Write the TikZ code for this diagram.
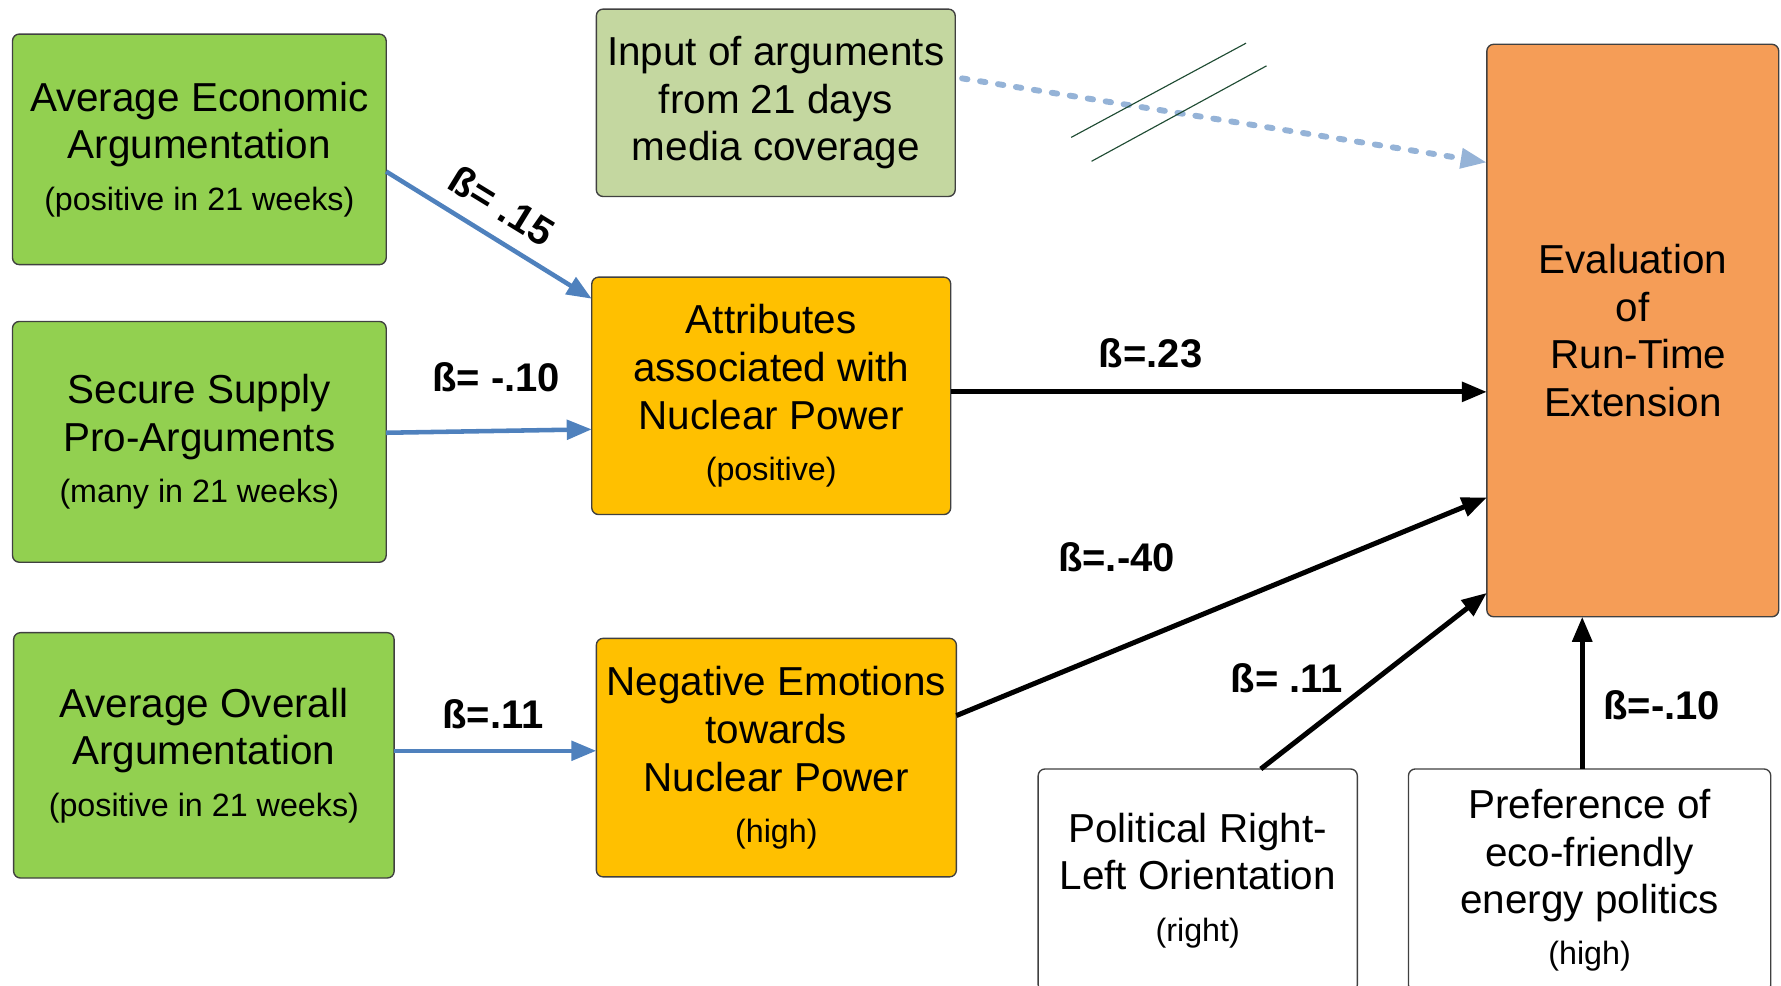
\documentclass[tikz,border=0pt]{standalone}
\usepackage{fontspec}
\setmainfont{Liberation Sans}
\usetikzlibrary{arrows.meta}

\definecolor{boxgreen}{RGB}{146,208,80}
\definecolor{inputgreen}{RGB}{196,215,160}
\definecolor{amber}{RGB}{255,192,0}
\definecolor{evalorange}{RGB}{245,157,87}
\definecolor{pathblue}{RGB}{79,129,189}
\definecolor{dotblue}{RGB}{149,179,215}
\definecolor{tickgreen}{RGB}{30,75,50}

\newcommand\subline[1]{{\fontsize{14.2}{17}\selectfont #1}}

\tikzset{
  box/.style={draw=black!75, line width=0.6pt, rounded corners=3pt, align=center,
    inner sep=0pt, outer sep=0pt, font=\fontsize{17.8}{21}\selectfont},
  bluearrow/.style={draw=pathblue, line width=2pt, -{Triangle[length=11pt,width=8.5pt]}},
  blackarrow/.style={draw=black, line width=2.2pt, -{Triangle[length=11pt,width=8.5pt]}},
  dotarrow/.style={draw=dotblue, line width=2.6pt, line cap=round,
    dash pattern=on 2.4pt off 5.6pt, -{Triangle[length=11.5pt,width=8.5pt]}},
  coef/.style={inner sep=0pt, font=\bfseries\fontsize{17.6}{21}\selectfont},
  tick/.style={draw=tickgreen, line width=0.5pt}
}

\begin{document}
\begin{tikzpicture}[x=0.5pt,y=-0.5pt]
\clip (0,0) rectangle (1568,868);
\useasboundingbox (0,0) rectangle (1568,868);

% source boxes (left column)
\node[box, fill=boxgreen, minimum width=164.5pt, minimum height=101.5pt] (aea) at (175.5,131.5)
  {Average Economic\\Argumentation\\[1.5pt]\subline{(positive in 21 weeks)}};
\node[box, fill=boxgreen, minimum width=164.5pt, minimum height=106pt] (ssp) at (175.5,389)
  {Secure Supply\\Pro-Arguments\\[1.5pt]\subline{(many in 21 weeks)}};
\node[box, fill=boxgreen, minimum width=167.5pt, minimum height=108pt] (aoa) at (179.5,665)
  {Average Overall\\Argumentation\\[1.5pt]\subline{(positive in 21 weeks)}};

% media input
\node[box, fill=inputgreen, minimum width=158pt, minimum height=82.5pt] (inp) at (683,90.5)
  {Input of arguments\\from 21 days\\media coverage};

% mediators
\node[box, fill=amber, minimum width=158pt, minimum height=104.5pt] (attr) at (679,348.5)
  {Attributes\\associated with\\Nuclear Power\\[1.5pt]\subline{(positive)}};
\node[box, fill=amber, minimum width=158.5pt, minimum height=105pt] (neg) at (683.5,667)
  {Negative Emotions\\towards\\Nuclear Power\\[1.5pt]\subline{(high)}};

% outcome
\node[box, fill=evalorange, minimum width=128.5pt, minimum height=252pt] (eval) at (1437.5,291)
  {Evaluation\\of\\\hspace*{.28em}Run-Time\\Extension};

% control variables
\node[box, fill=white, minimum width=140.5pt, minimum height=98pt] (pol) at (1054.5,775)
  {Political Right-\\Left Orientation\\[1.5pt]\subline{(right)}};
\node[box, fill=white, minimum width=159.5pt, minimum height=98pt] (pref) at (1399.5,775)
  {Preference of\\eco-friendly\\energy politics\\[1.5pt]\subline{(high)}};

% paths into the mediators
\draw[bluearrow] ([yshift=-9.75pt]aea.east) -- ([yshift=42.75pt]attr.west);
\draw[bluearrow] ([yshift=4pt]ssp.east) -- ([yshift=-14.75pt]attr.west);
\draw[bluearrow] ([yshift=2pt]aoa.east) -- ([yshift=3pt]neg.west);

% paths into the outcome
\draw[blackarrow] ([yshift=1.75pt]attr.east) -- ([yshift=-27pt]eval.west);
\draw[blackarrow] ([yshift=18.5pt]neg.east) -- ([yshift=-73.5pt]eval.west);
\draw[blackarrow] ([xshift=27.75pt]pol.north) -- ([yshift=-115.5pt]eval.west);
\draw[blackarrow] ([xshift=-3.25pt]pref.north) -- ([xshift=-3.25pt]pref.north |- eval.south);

% interrupted media path
\draw[dotarrow] ([xshift=3pt,yshift=10.75pt]inp.east) -- ([yshift=74pt]eval.west);
\draw[tick] (943,121) -- (1097,38);
\draw[tick] (961,142) -- (1115,58);

% coefficients
\node[coef, rotate=-31.5] (b1) at (442,181) {ß= .15};
\node[coef] (b2) at (437,332) {ß= -.10};
\node[coef] (b3) at (434,629) {ß=.11};
\node[coef] (b4) at (1013,311) {ß=.23};
\node[coef] (b5) at (983,491) {ß=.-40};
\node[coef] (b6) at (1133,597) {ß= .11};
\node[coef] (b7) at (1463,621) {ß=-.10};
\end{tikzpicture}
\end{document}
